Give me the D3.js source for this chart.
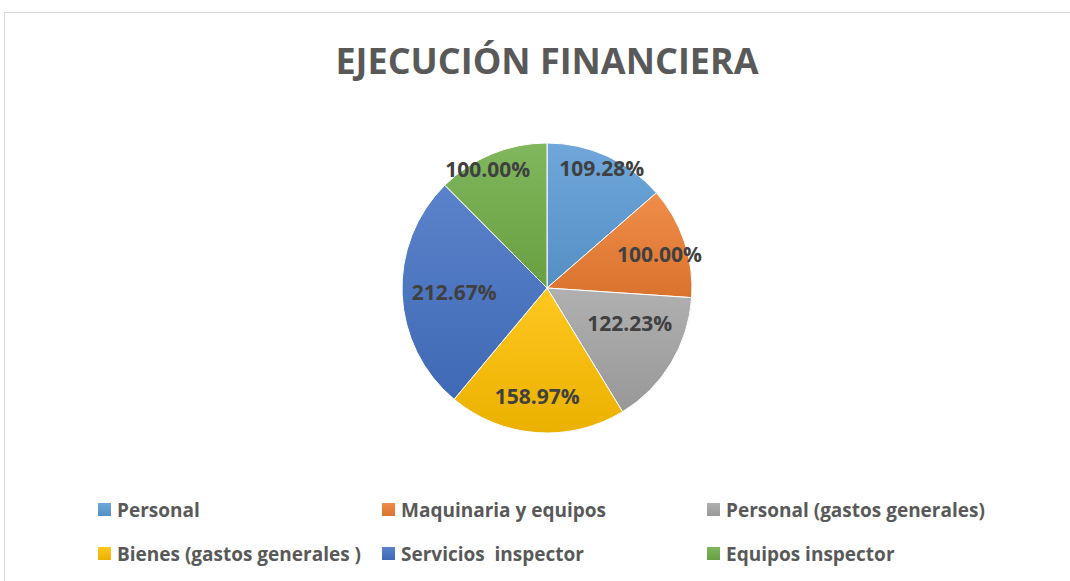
<!DOCTYPE html>
<html>
<head>
<meta charset="utf-8">
<script src="https://cdn.jsdelivr.net/npm/d3@7"></script>
<style>
  body { margin: 0; background: #fff; }
  svg { display: block; font-family: "Open Sans", sans-serif; }
</style>
</head>
<body>
<div class="pie-chart-container"></div>
<script>
// Data
const categories = ['Personal', 'Maquinaria y equipos', 'Personal (gastos generales)',
  'Bienes (gastos generales )', 'Servicios  inspector', 'Equipos inspector'];
const values = [109.28, 100.00, 122.23, 158.97, 212.67, 100.00];
const labels = ['109.28%', '100.00%', '122.23%', '158.97%', '212.67%', '100.00%'];
const colors = ['#5B9BD5', '#ED7D31', '#A5A5A5', '#FFC000', '#4472C4', '#70AD47'];

// label placement (fraction of radius, angle nudge in degrees) - like excel best fit
const labelRadius = [0.91, 0.81, 0.62, 0.75, 0.64, 0.92];
const labelNudge = [0, 2, -8, 1, 0, -4];

const svg_width = 1070, svg_height = 581;
const cx = 547, cy = 288, radius = 145;

const svg = d3.select('.pie-chart-container').append('svg')
  .attr('width', svg_width).attr('height', svg_height);

// chart border
svg.append('rect')
  .attr('x', 4.5).attr('y', 12.5).attr('width', 1200).attr('height', 700)
  .style('fill', '#fff').style('stroke', '#d9d9d9').style('stroke-width', 1);

// gradients (lighter top -> darker bottom)
const defs = svg.append('defs');
colors.forEach((c, i) => {
  const g = defs.append('linearGradient').attr('id', `grad${i}`)
    .attr('x1', 0).attr('y1', 0).attr('x2', 0).attr('y2', 1);
  g.append('stop').attr('offset', '0%').attr('stop-color', d3.interpolateRgb(c, '#fff')(0.12));
  g.append('stop').attr('offset', '100%').attr('stop-color', d3.interpolateRgb(c, '#000')(0.08));
});

// title
svg.append('text')
  .attr('x', cx).attr('y', 74)
  .attr('text-anchor', 'middle')
  .text('EJECUCIÓN FINANCIERA')
  .style('font-size', '36px').style('font-weight', 'bold').style('fill', '#595959');

// pie
const pie = d3.pie().sort(null).value(d => d)(values);
const arcGen = d3.arc().innerRadius(0).outerRadius(radius);

const pieGroup = svg.append('g').attr('transform', `translate(${cx},${cy})`);
pieGroup.selectAll('.slice').data(pie).enter()
  .append('path')
  .attr('class', 'slice')
  .attr('d', arcGen)
  .style('fill', (d, i) => `url(#grad${i})`)
  .style('stroke', '#fff').style('stroke-width', 1);

// data labels
const labelPos = (d, i) => {
  const a = (d.startAngle + d.endAngle) / 2 + labelNudge[i] * Math.PI / 180;
  return [Math.sin(a) * radius * labelRadius[i], -Math.cos(a) * radius * labelRadius[i]];
};
pieGroup.selectAll('.data-label').data(pie).enter()
  .append('text')
  .attr('class', 'data-label')
  .attr('x', (d, i) => labelPos(d, i)[0])
  .attr('y', (d, i) => labelPos(d, i)[1])
  .attr('text-anchor', 'middle')
  .attr('dominant-baseline', 'central')
  .text((d, i) => labels[i])
  .style('font-size', '21px').style('font-weight', 'bold').style('fill', '#404040');

// legend
const colX = [98, 382, 707];
const rowY = [509.5, 553.5];
const legend = svg.append('g').attr('class', 'legend')
  .selectAll('.legend-item').data(categories).enter()
  .append('g')
  .attr('transform', (d, i) => `translate(${colX[i % 3]},${rowY[Math.floor(i / 3)]})`);
legend.append('rect')
  .attr('x', 0).attr('y', -6.5).attr('width', 13).attr('height', 13)
  .style('fill', (d, i) => `url(#grad${i})`);
legend.append('text')
  .attr('x', 19).attr('y', 0)
  .attr('dominant-baseline', 'central')
  .text(d => d)
  .style('font-size', '19px').style('font-weight', 'bold').style('fill', '#595959')
  .style('white-space', 'pre');
</script>
</body>
</html>
